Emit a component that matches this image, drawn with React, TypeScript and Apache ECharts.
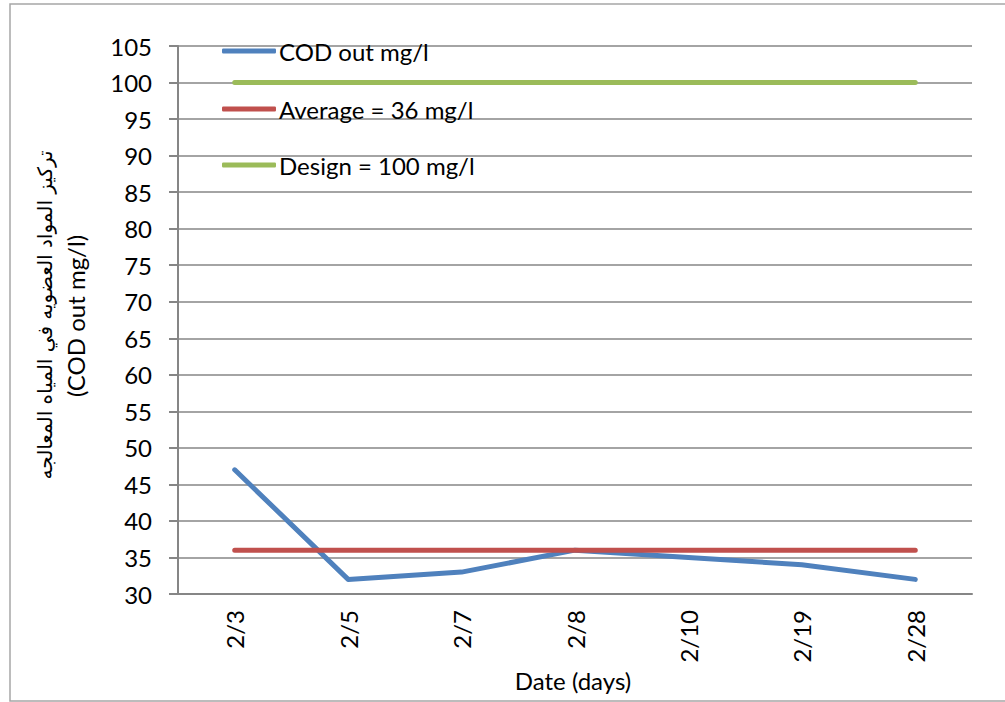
import React, { useEffect, useRef } from "react";
import * as echarts from "echarts";

const categories = ["2/3", "2/5", "2/7", "2/8", "2/10", "2/19", "2/28"];
const codOut = [47, 32, 33, 36, 35, 34, 32];
const average = [36, 36, 36, 36, 36, 36, 36];
const design = [100, 100, 100, 100, 100, 100, 100];
const seriesNames = ["COD out mg/l", "Average = 36 mg/l", "Design = 100 mg/l"];
const yTitleArabic = "تركيز المواد العضويه في المياه المعالجه";
const yTitleLatin = "(COD out mg/l)";
const xTitle = "Date (days)";

const FONT = "Lato, 'Open Sans', 'DejaVu Sans', sans-serif";

export default function App() {
  const ref = useRef<HTMLDivElement>(null);
  useEffect(() => {
    if (!ref.current) return;
    const chart = echarts.init(ref.current, undefined, { renderer: "svg" });
    const legendBase = {
      icon: "roundRect",
      itemWidth: 54,
      itemHeight: 5,
      itemGap: 0,
      left: 217,
      textStyle: { fontFamily: FONT, fontSize: 24, color: "#000", padding: [0, 0, 0, -2] },
    };
    chart.setOption({
      animation: false,
      backgroundColor: "#fff",
      grid: { left: 178, right: 33, top: 46, bottom: 108 },
      legend: [
        { ...legendBase, data: [seriesNames[0]], top: 34 },
        { ...legendBase, data: [seriesNames[1]], top: 92 },
        { ...legendBase, data: [seriesNames[2]], top: 148 },
      ],
      xAxis: {
        type: "category",
        data: categories,
        boundaryGap: true,
        axisLine: { lineStyle: { color: "#868686", width: 2 } },
        axisTick: { show: false },
        axisLabel: {
          rotate: 90,
          margin: 16,
          fontFamily: FONT,
          fontSize: 24,
          color: "#000",
        },
      },
      yAxis: {
        type: "value",
        min: 30,
        max: 105,
        interval: 5,
        axisLine: { show: true, lineStyle: { color: "#868686", width: 2 } },
        axisTick: { show: true, length: 9, lineStyle: { color: "#868686", width: 2 } },
        splitLine: { lineStyle: { color: "#868686", width: 1.5 } },
        axisLabel: {
          margin: 26,
          fontFamily: FONT,
          fontSize: 24,
          color: "#000",
        },
      },
      graphic: [
        {
          type: "rect",
          shape: { x: 10, y: 4, width: 1010, height: 697 },
          style: { fill: "none", stroke: "#A6A6A6", lineWidth: 1.5 },
          silent: true,
        },
        {
          type: "text",
          x: 45,
          y: 315,
          rotation: Math.PI / 2,
          style: {
            text: yTitleArabic,
            fontFamily: "'DejaVu Sans', sans-serif",
            fontSize: 20,
            fill: "#000",
            align: "center",
            verticalAlign: "middle",
          },
        },
        {
          type: "text",
          x: 75,
          y: 316,
          rotation: Math.PI / 2,
          style: {
            text: yTitleLatin,
            fontFamily: FONT,
            fontSize: 24,
            fill: "#000",
            align: "center",
            verticalAlign: "middle",
          },
        },
        {
          type: "text",
          x: 573,
          y: 680,
          style: {
            text: xTitle,
            fontFamily: FONT,
            fontSize: 24,
            fill: "#000",
            align: "center",
            verticalAlign: "middle",
          },
        },
      ],
      series: [
        {
          name: seriesNames[0],
          type: "line",
          data: codOut,
          symbol: "none",
          color: "#4F81BD",
          lineStyle: { width: 5, cap: "round", join: "round" },
          z: 3,
        },
        {
          name: seriesNames[1],
          type: "line",
          data: average,
          symbol: "none",
          color: "#C0504D",
          lineStyle: { width: 5, cap: "round" },
          z: 4,
        },
        {
          name: seriesNames[2],
          type: "line",
          data: design,
          symbol: "none",
          color: "#9BBB59",
          lineStyle: { width: 5, cap: "round" },
          z: 2,
        },
      ],
    });
    return () => chart.dispose();
  }, []);
  return (
    <div
      ref={ref}
      style={{ position: "fixed", left: 0, top: 0, width: 1005, height: 702 }}
    />
  );
}
